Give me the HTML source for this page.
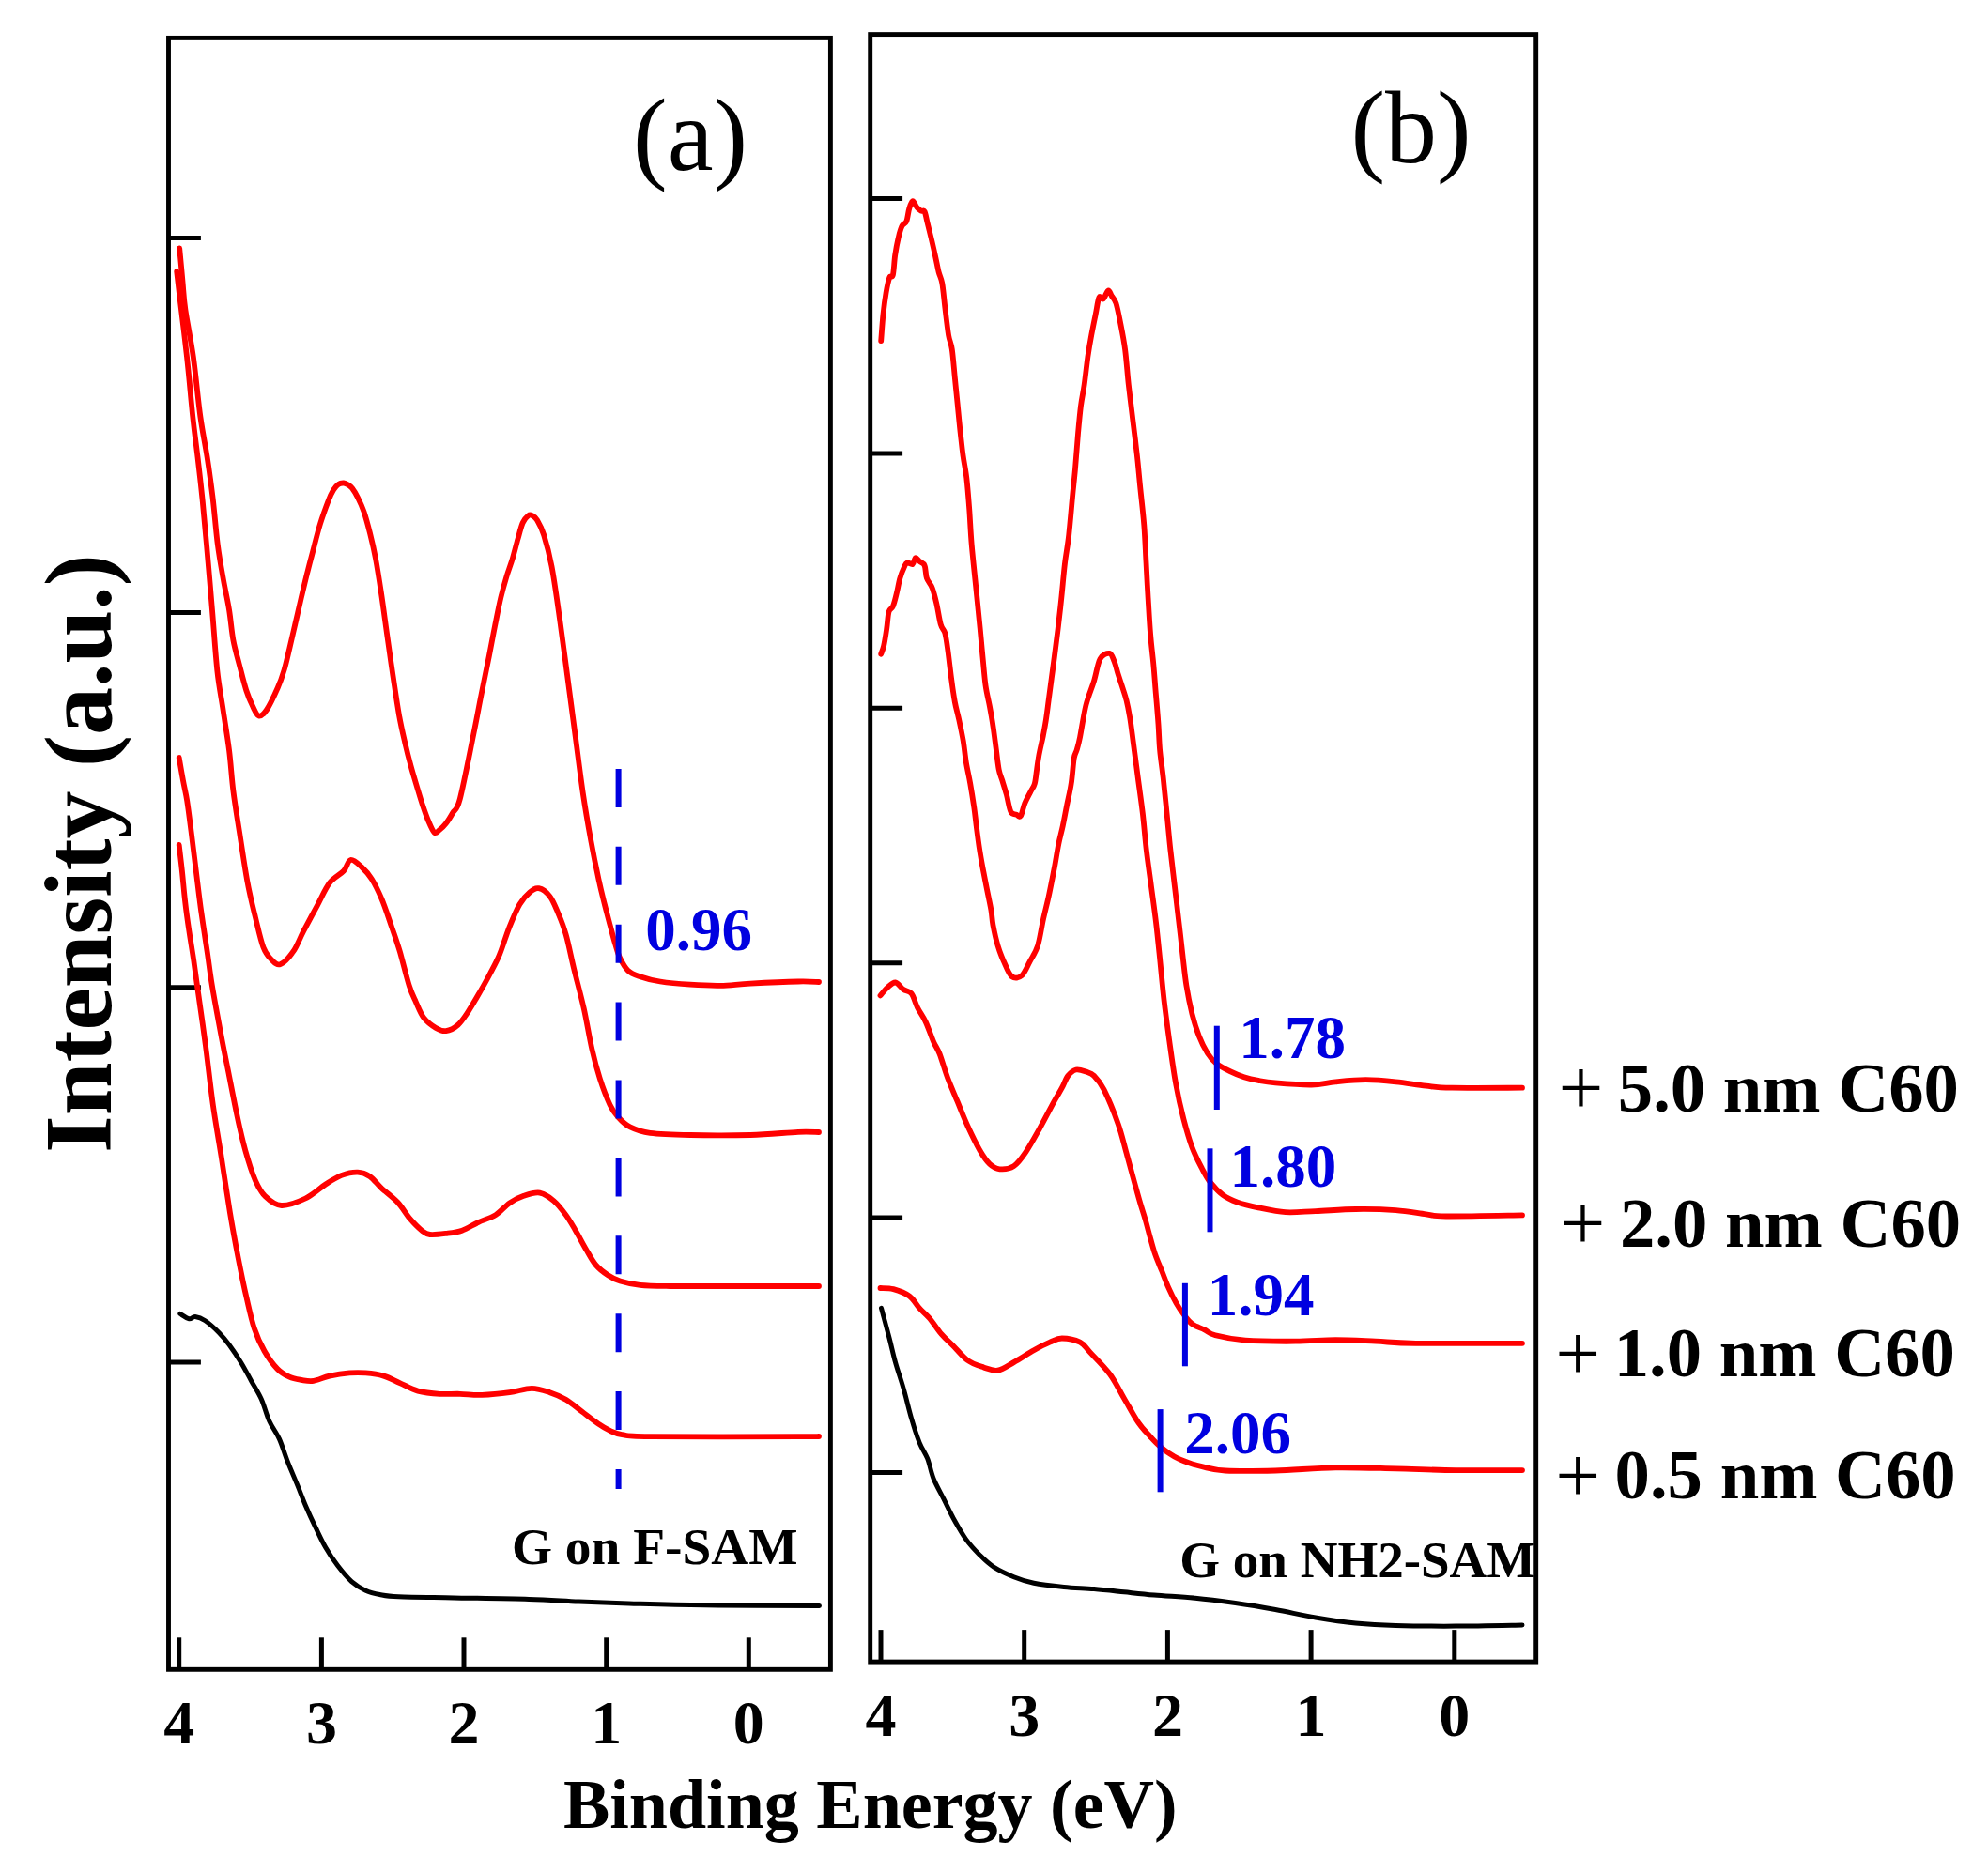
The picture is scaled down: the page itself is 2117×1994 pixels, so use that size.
<!DOCTYPE html>
<html><head><meta charset="utf-8"><title>UPS spectra</title>
<style>
html,body{margin:0;padding:0;background:#fff;}
body{width:2117px;height:1994px;overflow:hidden;}
svg{display:block;}
text{font-family:'Liberation Serif','Times New Roman',serif;fill:#000;}
text.ink{fill:#0000e0;}
</style></head>
<body>
<svg width="2117" height="1994" viewBox="0 0 2117 1994">
<rect width="2117" height="1994" fill="#fff"/>
<rect x="179.5" y="40.4" width="704.9" height="1737.9" fill="none" stroke="#000" stroke-width="4.9"/>
<rect x="926.7" y="36.6" width="709.0" height="1733.5" fill="none" stroke="#000" stroke-width="4.9"/>
<line x1="179.5" y1="253.4" x2="213.9" y2="253.4" stroke="#000" stroke-width="5.0"/>
<line x1="179.5" y1="652.6" x2="213.9" y2="652.6" stroke="#000" stroke-width="5.0"/>
<line x1="179.5" y1="1051.8" x2="213.9" y2="1051.8" stroke="#000" stroke-width="5.0"/>
<line x1="179.5" y1="1451.0" x2="213.9" y2="1451.0" stroke="#000" stroke-width="5.0"/>
<line x1="926.7" y1="211.5" x2="961.1" y2="211.5" stroke="#000" stroke-width="5.0"/>
<line x1="926.7" y1="482.9" x2="961.1" y2="482.9" stroke="#000" stroke-width="5.0"/>
<line x1="926.7" y1="754.3" x2="961.1" y2="754.3" stroke="#000" stroke-width="5.0"/>
<line x1="926.7" y1="1025.7" x2="961.1" y2="1025.7" stroke="#000" stroke-width="5.0"/>
<line x1="926.7" y1="1297.1" x2="961.1" y2="1297.1" stroke="#000" stroke-width="5.0"/>
<line x1="926.7" y1="1568.5" x2="961.1" y2="1568.5" stroke="#000" stroke-width="5.0"/>
<line x1="190.7" y1="1778.3" x2="190.7" y2="1744.3" stroke="#000" stroke-width="5.0"/>
<line x1="342.4" y1="1778.3" x2="342.4" y2="1744.3" stroke="#000" stroke-width="5.0"/>
<line x1="494.0" y1="1778.3" x2="494.0" y2="1744.3" stroke="#000" stroke-width="5.0"/>
<line x1="645.7" y1="1778.3" x2="645.7" y2="1744.3" stroke="#000" stroke-width="5.0"/>
<line x1="797.3" y1="1778.3" x2="797.3" y2="1744.3" stroke="#000" stroke-width="5.0"/>
<line x1="938.0" y1="1770.1" x2="938.0" y2="1736.1" stroke="#000" stroke-width="5.0"/>
<line x1="1090.7" y1="1770.1" x2="1090.7" y2="1736.1" stroke="#000" stroke-width="5.0"/>
<line x1="1243.4" y1="1770.1" x2="1243.4" y2="1736.1" stroke="#000" stroke-width="5.0"/>
<line x1="1396.1" y1="1770.1" x2="1396.1" y2="1736.1" stroke="#000" stroke-width="5.0"/>
<line x1="1548.8" y1="1770.1" x2="1548.8" y2="1736.1" stroke="#000" stroke-width="5.0"/>
<text x="190.7" y="1857" font-size="66" font-weight="bold" text-anchor="middle">4</text>
<text x="342.4" y="1857" font-size="66" font-weight="bold" text-anchor="middle">3</text>
<text x="494.0" y="1857" font-size="66" font-weight="bold" text-anchor="middle">2</text>
<text x="645.7" y="1857" font-size="66" font-weight="bold" text-anchor="middle">1</text>
<text x="797.3" y="1857" font-size="66" font-weight="bold" text-anchor="middle">0</text>
<text x="938.0" y="1849" font-size="66" font-weight="bold" text-anchor="middle">4</text>
<text x="1090.7" y="1849" font-size="66" font-weight="bold" text-anchor="middle">3</text>
<text x="1243.4" y="1849" font-size="66" font-weight="bold" text-anchor="middle">2</text>
<text x="1396.1" y="1849" font-size="66" font-weight="bold" text-anchor="middle">1</text>
<text x="1548.8" y="1849" font-size="66" font-weight="bold" text-anchor="middle">0</text>
<path d="M191.8,1399.4 C193.4,1400.3 198.7,1404.2 201.4,1404.7 C204.1,1405.2 205.0,1402.2 207.8,1402.6 C210.7,1402.9 214.2,1403.9 218.5,1406.8 C222.8,1409.7 229.1,1415.4 233.4,1419.7 C237.7,1424.0 240.2,1427.2 244.1,1432.5 C248.0,1437.8 253.0,1445.3 256.9,1451.7 C260.8,1458.1 264.0,1464.5 267.6,1470.9 C271.2,1477.3 275.1,1483.1 278.3,1490.2 C281.5,1497.3 283.6,1506.6 286.8,1513.7 C290.0,1520.8 294.3,1525.8 297.5,1532.9 C300.7,1540.0 302.9,1548.2 306.1,1556.4 C309.3,1564.6 313.6,1574.3 316.8,1582.1 C320.0,1589.9 322.1,1595.9 325.3,1603.4 C328.5,1610.9 332.4,1619.4 336.0,1626.9 C339.6,1634.4 342.8,1641.5 346.7,1648.3 C350.6,1655.1 354.9,1661.5 359.5,1667.5 C364.1,1673.5 369.4,1680.1 374.4,1684.6 C379.4,1689.0 384.4,1691.9 389.4,1694.2 C394.4,1696.5 398.5,1697.4 404.4,1698.5 C410.3,1699.6 411.5,1700.2 424.6,1700.8 C437.8,1701.4 460.2,1701.5 483.3,1701.9 C506.4,1702.3 541.1,1702.7 563.3,1703.4 C585.5,1704.1 598.8,1705.3 616.6,1706.1 C634.4,1706.9 647.7,1707.4 669.9,1708.0 C692.1,1708.6 716.1,1709.4 749.9,1709.8 C783.7,1710.2 852.1,1710.5 872.5,1710.6" fill="none" stroke="#000" stroke-width="5.0" stroke-linejoin="round" stroke-linecap="round"/>
<path d="M938.5,1393.4 C939.9,1398.8 944.6,1415.9 947.1,1425.5 C949.6,1435.1 951.0,1442.2 953.5,1451.1 C956.0,1460.0 959.2,1468.9 962.1,1478.9 C965.0,1488.9 967.8,1501.3 970.6,1510.9 C973.4,1520.5 976.2,1529.5 979.1,1536.6 C982.0,1543.7 985.2,1547.3 987.7,1553.7 C990.2,1560.1 991.2,1567.9 994.1,1575.0 C997.0,1582.1 1001.2,1589.3 1004.8,1596.4 C1008.4,1603.5 1011.6,1610.7 1015.5,1617.8 C1019.4,1624.9 1023.7,1632.7 1028.3,1639.1 C1032.9,1645.5 1038.2,1651.2 1043.2,1656.2 C1048.2,1661.2 1052.1,1665.2 1058.2,1669.1 C1064.3,1673.0 1072.5,1676.8 1079.6,1679.7 C1086.7,1682.6 1092.0,1684.4 1100.9,1686.2 C1109.8,1688.0 1122.3,1689.3 1133.0,1690.4 C1143.7,1691.5 1154.3,1691.7 1165.0,1692.6 C1175.7,1693.5 1186.4,1694.7 1197.1,1695.8 C1207.8,1696.9 1216.5,1697.9 1229.1,1699.0 C1241.7,1700.1 1258.3,1700.8 1272.7,1702.2 C1287.1,1703.6 1301.2,1705.5 1315.5,1707.5 C1329.8,1709.5 1344.0,1711.9 1358.2,1714.5 C1372.4,1717.1 1386.7,1720.6 1400.9,1723.0 C1415.2,1725.4 1429.5,1727.6 1443.7,1729.0 C1458.0,1730.4 1468.6,1731.0 1486.4,1731.5 C1504.2,1732.0 1528.1,1732.2 1550.5,1732.1 C1572.9,1732.0 1609.2,1731.2 1621.0,1731.0" fill="none" stroke="#000" stroke-width="5.0" stroke-linejoin="round" stroke-linecap="round"/>
<path d="M191.2,264.4 C191.8,270.3 193.5,289.1 194.5,300.0 C195.5,310.9 195.5,316.7 197.4,330.0 C199.3,343.3 203.1,361.0 205.8,380.0 C208.5,399.0 210.9,426.2 213.4,444.0 C215.9,461.8 218.4,472.5 220.6,486.8 C222.8,501.1 224.6,514.1 226.5,529.6 C228.4,545.1 229.9,565.3 231.8,580.0 C233.7,594.7 235.9,606.3 238.0,618.0 C240.1,629.7 242.4,639.3 244.1,650.0 C245.8,660.7 246.6,672.4 248.4,682.0 C250.2,691.6 252.5,698.8 254.8,707.7 C257.1,716.6 259.9,728.1 262.3,735.5 C264.7,742.9 266.8,747.5 269.0,752.0 C271.2,756.5 273.0,761.8 275.5,762.5 C278.0,763.2 280.6,761.0 284.0,756.0 C287.4,751.0 292.7,739.5 295.8,732.5 C298.9,725.5 300.4,721.0 302.5,714.0 C304.6,707.0 306.3,699.1 308.3,690.8 C310.3,682.5 312.4,673.0 314.5,664.0 C316.6,655.0 318.7,645.5 320.8,636.7 C322.9,627.9 324.9,619.3 327.0,611.0 C329.1,602.7 331.0,595.5 333.3,586.7 C335.6,577.9 338.2,567.0 341.0,558.0 C343.8,549.0 347.7,538.5 350.0,532.5 C352.3,526.5 353.3,524.8 355.0,522.0 C356.7,519.2 358.6,517.0 360.4,515.8 C362.2,514.5 364.2,514.4 366.0,514.5 C367.8,514.6 369.5,515.6 371.0,516.5 C372.5,517.4 373.3,517.8 375.0,520.0 C376.7,522.2 378.9,525.8 381.0,530.0 C383.1,534.2 385.3,538.7 387.5,545.0 C389.7,551.3 391.9,559.7 394.0,568.0 C396.1,576.3 398.0,584.3 400.0,595.0 C402.0,605.7 403.9,618.1 406.0,632.0 C408.1,645.9 410.4,663.6 412.5,678.3 C414.6,693.0 416.4,706.1 418.5,720.0 C420.6,733.9 422.9,750.0 425.0,761.7 C427.1,773.4 428.9,781.0 431.0,790.0 C433.1,799.0 435.3,807.8 437.5,815.8 C439.7,823.8 441.9,831.0 444.0,838.0 C446.1,845.0 448.0,851.5 450.0,857.5 C452.0,863.5 453.9,869.1 456.0,874.0 C458.1,878.9 460.5,885.0 462.5,886.7 C464.5,888.4 465.9,885.6 468.0,884.0 C470.1,882.4 472.7,880.0 475.0,877.0 C477.3,874.0 479.5,870.4 482.0,866.0 C484.5,861.6 486.1,864.8 489.8,850.9 C493.5,837.0 500.4,801.0 504.2,782.5 C508.0,764.0 509.7,753.9 512.5,740.0 C515.3,726.1 518.4,711.4 520.8,699.2 C523.2,687.0 524.9,677.4 527.0,667.0 C529.1,656.6 531.2,645.5 533.3,636.7 C535.4,627.9 537.4,621.0 539.5,614.0 C541.6,607.0 543.8,601.7 545.8,595.0 C547.8,588.3 549.7,580.3 551.5,574.0 C553.3,567.7 554.8,561.1 556.6,557.0 C558.4,552.9 560.8,550.5 562.5,549.2 C564.2,547.9 565.1,548.4 566.7,549.2 C568.3,550.0 569.9,550.5 572.0,554.0 C574.1,557.5 576.6,561.8 579.2,570.0 C581.8,578.2 584.7,588.7 587.5,603.3 C590.3,617.9 593.0,638.0 595.8,657.5 C598.6,677.0 601.4,699.2 604.2,720.0 C607.0,740.8 609.7,761.7 612.5,782.5 C615.3,803.3 618.0,826.2 620.8,845.0 C623.6,863.8 626.4,879.7 629.2,895.0 C632.0,910.3 635.1,925.5 637.5,936.7 C639.9,947.9 641.4,953.7 643.5,962.0 C645.6,970.3 648.1,979.5 650.0,986.7 C651.9,993.9 653.3,999.5 655.0,1005.0 C656.7,1010.5 657.7,1015.2 660.0,1020.0 C662.3,1024.8 665.2,1030.4 668.8,1033.8 C672.4,1037.2 675.9,1038.2 681.6,1040.2 C687.3,1042.2 694.1,1044.1 703.0,1045.5 C711.9,1046.9 724.3,1048.0 735.0,1048.7 C745.7,1049.4 756.4,1050.0 767.1,1049.8 C777.8,1049.6 785.3,1048.3 799.1,1047.6 C812.9,1046.9 837.9,1045.8 850.0,1045.5 C862.1,1045.2 868.3,1045.9 872.0,1046.0" fill="none" stroke="#ff0000" stroke-width="5.8" stroke-linejoin="round" stroke-linecap="round"/>
<path d="M188.2,289.1 C188.7,293.2 189.3,298.7 191.1,313.8 C192.9,328.9 196.6,358.3 199.0,380.0 C201.4,401.7 203.4,426.2 205.3,444.0 C207.2,461.8 208.8,472.5 210.5,486.8 C212.2,501.1 213.7,514.1 215.3,529.6 C216.9,545.1 218.2,559.9 220.0,580.0 C221.8,600.1 224.1,627.6 226.0,650.0 C227.9,672.4 229.4,696.3 231.3,714.1 C233.2,731.9 235.6,742.5 237.7,756.8 C239.8,771.0 242.3,785.4 244.1,799.6 C245.9,813.9 246.6,828.1 248.4,842.3 C250.2,856.5 252.3,869.0 254.8,885.0 C257.3,901.0 260.5,923.2 263.3,938.5 C266.1,953.8 269.0,965.1 271.9,976.9 C274.8,988.6 277.5,1001.5 280.4,1009.0 C283.2,1016.5 286.0,1019.0 289.0,1022.0 C292.0,1025.0 294.7,1028.6 298.6,1027.1 C302.5,1025.6 308.4,1019.1 312.5,1013.2 C316.6,1007.3 318.9,1000.1 323.2,991.9 C327.5,983.7 333.5,972.6 338.1,964.1 C342.7,955.6 346.3,946.7 350.9,940.6 C355.5,934.5 362.1,931.9 365.9,927.8 C369.6,923.7 370.2,916.7 373.4,916.0 C376.6,915.3 381.4,920.1 385.1,923.5 C388.8,926.9 392.2,930.6 395.8,936.3 C399.4,942.0 402.9,949.2 406.5,957.7 C410.1,966.2 414.0,978.4 417.2,987.6 C420.4,996.9 422.6,1002.8 425.7,1013.2 C428.8,1023.6 432.9,1041.0 435.8,1050.0 C438.7,1059.0 440.2,1061.4 442.8,1067.1 C445.4,1072.8 447.8,1079.6 451.4,1084.2 C455.0,1088.8 460.3,1092.6 464.2,1094.9 C468.1,1097.2 471.0,1098.6 474.9,1098.1 C478.8,1097.6 483.8,1095.1 487.7,1091.7 C491.6,1088.3 494.6,1083.5 498.4,1077.8 C502.2,1072.1 506.9,1063.9 510.7,1057.3 C514.5,1050.7 517.9,1044.8 521.4,1038.0 C524.9,1031.2 528.5,1025.2 532.0,1016.7 C535.5,1008.2 539.1,995.7 542.7,986.8 C546.3,977.9 549.8,969.3 553.4,963.2 C557.0,957.1 560.7,953.2 564.1,950.4 C567.5,947.6 570.1,945.5 573.7,946.2 C577.3,946.9 582.1,950.4 585.5,954.7 C588.9,959.0 591.1,965.0 594.0,971.8 C596.9,978.6 599.8,985.3 602.6,995.3 C605.5,1005.3 607.9,1018.4 611.1,1031.6 C614.3,1044.8 618.6,1060.2 621.8,1074.4 C625.0,1088.7 627.4,1104.6 630.3,1117.1 C633.1,1129.5 635.7,1139.1 638.9,1149.1 C642.1,1159.1 646.4,1170.1 649.6,1176.9 C652.8,1183.7 654.6,1185.8 658.1,1189.7 C661.6,1193.6 665.2,1197.6 670.9,1200.4 C676.6,1203.2 681.6,1205.4 692.3,1206.8 C703.0,1208.2 717.2,1208.6 735.0,1209.0 C752.8,1209.4 779.9,1209.5 799.1,1209.0 C818.3,1208.5 837.9,1206.3 850.0,1205.8 C862.1,1205.3 868.3,1206.0 872.0,1206.0" fill="none" stroke="#ff0000" stroke-width="5.8" stroke-linejoin="round" stroke-linecap="round"/>
<path d="M190.7,807.0 C191.4,811.1 193.6,823.9 195.0,831.6 C196.4,839.3 197.8,844.1 199.2,853.0 C200.6,861.9 201.9,872.5 203.5,885.0 C205.1,897.5 207.0,913.5 208.8,927.8 C210.6,942.0 212.2,956.3 214.2,970.5 C216.2,984.7 218.6,1000.0 220.6,1013.2 C222.6,1026.5 223.4,1035.0 225.9,1050.0 C228.4,1065.0 232.6,1087.4 235.6,1103.4 C238.6,1119.4 241.3,1132.0 244.1,1146.2 C246.9,1160.5 249.8,1175.7 252.6,1188.9 C255.4,1202.1 258.0,1213.8 261.2,1225.2 C264.4,1236.6 268.3,1249.1 271.9,1257.3 C275.5,1265.5 278.0,1270.0 282.6,1274.4 C287.2,1278.9 292.6,1283.7 299.7,1284.0 C306.8,1284.3 317.5,1280.2 325.3,1276.5 C333.1,1272.8 340.3,1265.6 346.7,1261.5 C353.1,1257.4 358.1,1254.0 363.8,1251.9 C369.5,1249.8 375.9,1248.5 380.9,1248.7 C385.9,1248.9 389.4,1250.2 393.7,1253.0 C398.0,1255.8 401.5,1261.2 406.5,1265.8 C411.5,1270.4 418.6,1275.4 423.6,1280.8 C428.6,1286.2 432.1,1292.9 436.4,1297.9 C440.7,1302.9 445.6,1307.9 449.2,1310.7 C452.8,1313.5 453.5,1314.5 457.8,1315.0 C462.1,1315.5 469.2,1314.6 474.9,1313.9 C480.6,1313.2 486.3,1312.7 492.0,1310.7 C497.7,1308.7 503.1,1304.9 509.1,1302.1 C515.1,1299.3 522.2,1297.6 527.8,1294.1 C533.4,1290.6 537.7,1284.7 542.7,1281.3 C547.7,1277.9 552.4,1275.6 557.7,1273.8 C563.1,1272.0 569.5,1269.7 574.8,1270.6 C580.1,1271.5 585.1,1275.2 589.7,1279.1 C594.3,1283.0 598.7,1288.8 602.6,1294.1 C606.5,1299.4 609.7,1305.2 613.2,1311.2 C616.8,1317.2 620.3,1324.4 623.9,1330.4 C627.5,1336.5 630.7,1342.9 634.6,1347.5 C638.5,1352.1 643.1,1355.4 647.4,1358.2 C651.7,1361.0 654.6,1362.8 660.3,1364.6 C666.0,1366.4 672.7,1368.0 681.6,1368.9 C690.5,1369.8 697.7,1369.8 713.7,1370.0 C729.7,1370.2 755.1,1370.0 777.8,1370.0 C800.5,1370.0 834.3,1370.0 850.0,1370.0 C865.7,1370.0 868.3,1370.0 872.0,1370.0" fill="none" stroke="#ff0000" stroke-width="5.8" stroke-linejoin="round" stroke-linecap="round"/>
<path d="M190.7,900.0 C191.2,904.6 192.8,917.8 193.9,927.8 C195.0,937.8 195.8,949.1 197.1,959.8 C198.3,970.5 199.8,981.2 201.4,991.9 C203.0,1002.6 205.0,1014.2 206.4,1023.9 C207.8,1033.6 207.9,1035.0 210.0,1050.0 C212.1,1065.0 216.2,1092.7 219.0,1114.1 C221.8,1135.5 224.2,1158.6 227.0,1178.2 C229.8,1197.8 232.6,1212.6 235.6,1231.6 C238.6,1250.6 242.0,1273.9 245.0,1292.0 C248.0,1310.1 250.8,1325.1 253.7,1340.0 C256.6,1354.9 259.4,1368.7 262.3,1381.2 C265.2,1393.7 267.6,1405.4 270.8,1415.0 C274.0,1424.6 277.4,1431.8 281.5,1439.0 C285.6,1446.2 290.9,1453.5 295.4,1458.1 C299.8,1462.7 303.9,1464.7 308.2,1466.7 C312.5,1468.7 316.7,1469.2 321.0,1469.9 C325.3,1470.6 328.8,1471.6 333.8,1470.9 C338.8,1470.2 344.5,1467.0 350.9,1465.6 C357.3,1464.2 365.9,1462.9 372.3,1462.4 C378.7,1461.9 383.3,1461.9 389.4,1462.4 C395.4,1462.9 402.6,1463.8 408.6,1465.6 C414.7,1467.4 419.6,1470.4 425.7,1473.1 C431.8,1475.8 437.9,1479.6 445.0,1481.6 C452.1,1483.5 461.0,1484.3 468.5,1484.8 C476.0,1485.3 482.3,1484.6 489.8,1484.8 C497.3,1485.0 504.5,1486.2 513.3,1485.9 C522.1,1485.6 533.9,1484.4 542.7,1483.2 C551.5,1482.0 559.1,1478.9 566.2,1478.9 C573.3,1478.9 579.4,1481.2 585.5,1483.2 C591.6,1485.2 596.9,1487.3 602.6,1490.7 C608.3,1494.1 614.0,1499.2 619.7,1503.5 C625.4,1507.8 631.8,1512.9 636.8,1516.3 C641.8,1519.7 645.3,1521.8 649.6,1523.8 C653.9,1525.8 655.3,1527.0 662.4,1528.1 C669.5,1529.2 661.0,1529.8 692.3,1530.2 C723.6,1530.6 820.0,1530.2 850.0,1530.2 C880.0,1530.2 868.3,1530.0 872.0,1530.0" fill="none" stroke="#ff0000" stroke-width="5.8" stroke-linejoin="round" stroke-linecap="round"/>
<path d="M938.2,363.1 C938.6,358.4 939.6,343.2 940.5,334.7 C941.4,326.2 942.4,318.7 943.5,312.2 C944.6,305.7 946.0,299.0 947.2,295.8 C948.4,292.6 949.9,296.8 950.9,292.8 C951.9,288.8 952.2,278.5 953.2,271.8 C954.2,265.1 955.6,257.6 956.9,252.4 C958.1,247.2 959.3,243.2 960.7,240.4 C962.1,237.7 964.0,238.9 965.2,235.9 C966.5,232.9 967.1,226.0 968.2,222.4 C969.3,218.8 970.5,214.4 971.9,214.2 C973.3,213.9 974.9,219.2 976.4,220.9 C977.9,222.7 979.5,223.9 980.9,224.7 C982.3,225.4 983.5,223.3 984.6,225.4 C985.7,227.5 986.5,232.9 987.6,237.4 C988.7,241.9 989.9,246.7 991.3,252.4 C992.7,258.1 994.4,265.6 995.8,271.8 C997.2,278.0 998.4,284.8 999.6,289.8 C1000.9,294.8 1002.2,295.6 1003.3,301.8 C1004.4,308.0 1005.2,318.0 1006.3,327.2 C1007.4,336.4 1008.9,349.6 1010.1,357.1 C1011.4,364.6 1012.7,364.6 1013.8,372.1 C1014.9,379.6 1015.8,392.0 1016.8,402.0 C1017.8,412.0 1018.8,421.9 1019.8,431.9 C1020.8,441.9 1021.8,453.0 1022.8,461.9 C1023.8,470.8 1024.4,477.0 1025.5,485.0 C1026.6,493.0 1028.3,500.3 1029.4,509.8 C1030.5,519.3 1031.3,530.2 1032.2,541.9 C1033.1,553.6 1033.5,566.2 1034.7,580.0 C1035.9,593.8 1037.7,609.9 1039.2,624.9 C1040.7,639.9 1042.5,657.3 1043.7,669.8 C1044.9,682.3 1045.5,690.0 1046.5,700.0 C1047.5,710.0 1048.3,721.2 1049.5,729.9 C1050.7,738.6 1052.5,744.9 1053.9,752.4 C1055.3,759.9 1056.6,767.3 1057.7,774.8 C1058.8,782.3 1059.7,789.8 1060.7,797.3 C1061.7,804.8 1062.6,814.0 1063.7,819.7 C1064.8,825.4 1066.0,827.2 1067.4,831.7 C1068.8,836.2 1070.4,841.1 1071.9,846.6 C1073.4,852.1 1074.7,861.1 1076.4,864.6 C1078.2,868.1 1080.7,866.9 1082.4,867.6 C1084.2,868.4 1085.4,871.1 1086.9,869.1 C1088.4,867.1 1089.6,859.9 1091.3,855.6 C1093.0,851.4 1095.5,847.1 1097.3,843.6 C1099.0,840.1 1100.7,838.7 1101.8,834.7 C1102.9,830.7 1103.3,824.7 1104.1,819.7 C1104.8,814.7 1105.2,810.7 1106.3,804.7 C1107.4,798.7 1109.5,790.0 1110.8,783.8 C1112.0,777.6 1112.8,773.8 1113.8,767.3 C1114.8,760.8 1115.8,752.4 1116.8,744.9 C1117.8,737.4 1118.8,729.9 1119.8,722.4 C1120.8,714.9 1121.7,708.7 1122.8,700.0 C1123.9,691.3 1125.3,680.8 1126.6,670.0 C1127.9,659.2 1129.3,646.7 1130.5,635.0 C1131.7,623.3 1132.7,610.8 1134.0,600.0 C1135.3,589.2 1136.9,581.9 1138.2,570.1 C1139.5,558.3 1140.9,541.2 1142.0,529.4 C1143.1,517.6 1144.0,510.7 1145.0,499.5 C1146.0,488.3 1147.0,473.3 1148.0,462.1 C1149.0,450.9 1149.9,440.9 1151.0,432.2 C1152.1,423.5 1153.5,418.4 1154.7,409.7 C1155.9,401.0 1157.2,388.5 1158.4,379.8 C1159.7,371.1 1160.8,364.8 1162.2,357.3 C1163.6,349.8 1165.3,341.6 1166.7,334.9 C1168.1,328.2 1169.0,319.6 1170.4,316.9 C1171.8,314.1 1173.3,319.6 1174.9,318.4 C1176.5,317.2 1178.6,310.0 1180.1,309.5 C1181.6,309.0 1182.5,313.2 1183.9,315.4 C1185.3,317.6 1186.9,318.4 1188.4,322.9 C1189.9,327.4 1191.2,334.2 1192.8,342.4 C1194.4,350.6 1196.6,361.1 1198.1,372.3 C1199.6,383.5 1200.4,397.2 1201.8,409.7 C1203.2,422.2 1204.8,434.6 1206.3,447.1 C1207.8,459.6 1209.4,472.0 1210.8,484.5 C1212.2,497.0 1213.2,509.4 1214.5,521.9 C1215.8,534.4 1217.3,546.5 1218.3,559.3 C1219.3,572.1 1219.8,585.6 1220.5,598.5 C1221.2,611.4 1221.8,624.1 1222.6,636.9 C1223.4,649.7 1224.1,663.6 1225.1,675.4 C1226.0,687.1 1227.3,696.7 1228.3,707.4 C1229.3,718.1 1230.0,728.8 1230.9,739.5 C1231.8,750.2 1232.8,761.4 1233.5,771.5 C1234.2,781.6 1234.3,790.5 1235.2,800.0 C1236.1,809.5 1237.5,817.4 1238.7,828.5 C1239.9,839.6 1241.3,854.1 1242.6,866.9 C1243.9,879.7 1245.0,892.6 1246.4,905.4 C1247.8,918.2 1249.4,931.0 1250.9,943.8 C1252.4,956.6 1253.9,969.6 1255.4,982.3 C1256.9,995.0 1258.4,1008.7 1259.7,1020.0 C1261.0,1031.3 1261.8,1039.9 1263.4,1049.9 C1265.0,1059.9 1267.2,1070.9 1269.4,1079.9 C1271.7,1088.9 1274.2,1096.8 1276.9,1103.8 C1279.6,1110.8 1282.8,1117.0 1285.8,1121.7 C1288.8,1126.4 1290.8,1129.0 1294.8,1132.2 C1298.8,1135.5 1304.8,1138.7 1309.8,1141.2 C1314.8,1143.7 1319.7,1145.6 1324.7,1147.2 C1329.7,1148.8 1334.4,1149.9 1340.0,1150.9 C1345.6,1151.9 1348.8,1152.6 1358.2,1153.4 C1367.7,1154.2 1386.0,1155.7 1396.7,1155.5 C1407.4,1155.3 1412.7,1153.2 1422.3,1152.3 C1431.9,1151.4 1443.7,1150.2 1454.4,1150.2 C1465.1,1150.2 1475.7,1151.2 1486.4,1152.3 C1497.1,1153.4 1508.5,1155.5 1518.5,1156.6 C1528.5,1157.7 1529.1,1158.3 1546.2,1158.7 C1563.3,1159.1 1608.5,1158.7 1621.0,1158.7" fill="none" stroke="#ff0000" stroke-width="5.8" stroke-linejoin="round" stroke-linecap="round"/>
<path d="M938.2,696.7 C938.7,695.2 940.2,692.2 941.2,687.7 C942.2,683.2 943.3,675.8 944.2,669.8 C945.1,663.8 945.4,655.8 946.5,651.8 C947.6,647.8 949.5,649.0 950.9,645.8 C952.3,642.6 953.5,637.4 954.7,632.4 C956.0,627.4 957.0,620.6 958.4,615.9 C959.8,611.1 961.6,606.6 962.9,603.9 C964.1,601.2 964.4,600.0 965.9,599.5 C967.4,599.0 970.4,601.8 971.9,600.9 C973.4,600.0 973.6,594.7 974.9,594.2 C976.1,593.7 977.8,596.6 979.4,598.0 C981.0,599.4 983.4,599.4 984.6,602.4 C985.9,605.4 985.5,611.9 986.9,615.9 C988.3,619.9 991.1,621.9 992.8,626.4 C994.5,630.9 995.8,636.3 997.3,642.8 C998.8,649.3 1000.3,660.0 1001.8,665.3 C1003.3,670.5 1005.0,669.8 1006.3,674.3 C1007.5,678.8 1008.2,684.2 1009.3,692.2 C1010.4,700.2 1011.8,713.0 1013.0,722.2 C1014.2,731.4 1015.4,740.1 1016.8,747.6 C1018.2,755.1 1019.8,760.0 1021.3,767.0 C1022.8,774.0 1024.5,782.0 1025.8,789.5 C1027.0,797.0 1027.6,804.4 1028.8,811.9 C1030.0,819.4 1031.8,826.4 1033.2,834.4 C1034.6,842.4 1036.2,852.6 1037.3,860.1 C1038.4,867.6 1038.8,872.6 1039.7,879.6 C1040.6,886.6 1041.6,894.5 1042.7,902.0 C1043.8,909.5 1045.1,916.9 1046.5,924.4 C1047.9,931.9 1049.4,939.4 1050.9,946.9 C1052.4,954.4 1054.3,962.8 1055.4,969.3 C1056.5,975.8 1056.3,979.3 1057.5,985.6 C1058.7,991.9 1060.6,1000.6 1062.5,1007.0 C1064.4,1013.4 1066.4,1018.6 1068.9,1024.1 C1071.4,1029.6 1074.2,1037.6 1077.4,1040.1 C1080.6,1042.6 1084.9,1041.8 1088.1,1039.1 C1091.3,1036.4 1093.8,1029.4 1096.7,1024.1 C1099.6,1018.7 1102.9,1014.4 1105.2,1007.0 C1107.5,999.6 1108.9,988.8 1110.8,980.0 C1112.7,971.2 1114.8,963.7 1116.8,954.4 C1118.8,945.1 1121.0,933.6 1122.8,924.4 C1124.5,915.2 1125.8,906.5 1127.3,899.0 C1128.8,891.5 1130.3,886.6 1131.8,879.6 C1133.3,872.6 1134.7,864.6 1136.2,857.1 C1137.7,849.6 1139.5,842.9 1140.7,834.7 C1142.0,826.5 1142.7,813.7 1143.7,807.7 C1144.7,801.7 1145.6,802.6 1146.7,798.8 C1147.8,795.0 1148.5,793.0 1150.1,785.0 C1151.7,777.0 1154.0,760.9 1156.5,750.9 C1159.0,740.9 1162.5,733.5 1165.0,725.3 C1167.5,717.1 1168.8,706.7 1171.5,701.8 C1174.2,696.9 1179.0,695.4 1181.5,695.9 C1184.0,696.4 1185.2,701.3 1186.7,704.9 C1188.2,708.5 1189.0,713.0 1190.5,717.7 C1192.0,722.4 1194.1,728.4 1195.6,733.1 C1197.1,737.8 1198.2,740.6 1199.5,745.9 C1200.8,751.2 1202.1,757.8 1203.3,765.1 C1204.5,772.5 1205.3,779.4 1206.7,790.0 C1208.1,800.6 1210.1,815.7 1211.8,828.5 C1213.5,841.3 1215.4,854.1 1216.9,866.9 C1218.4,879.7 1219.3,892.6 1220.8,905.4 C1222.3,918.2 1224.2,931.0 1225.9,943.8 C1227.6,956.6 1229.5,969.6 1231.0,982.3 C1232.5,995.0 1233.6,1006.2 1235.0,1020.0 C1236.4,1033.8 1237.8,1049.9 1239.5,1064.9 C1241.2,1079.9 1243.3,1094.8 1245.4,1109.8 C1247.5,1124.8 1249.7,1141.0 1252.2,1154.7 C1254.7,1168.4 1257.5,1180.9 1260.4,1192.1 C1263.3,1203.3 1266.2,1213.3 1269.4,1222.0 C1272.7,1230.7 1276.7,1238.3 1279.9,1244.5 C1283.1,1250.7 1285.1,1254.7 1288.8,1259.4 C1292.5,1264.1 1297.5,1269.4 1302.3,1272.9 C1307.0,1276.4 1311.0,1278.2 1317.3,1280.4 C1323.6,1282.6 1331.4,1284.5 1340.0,1286.3 C1348.6,1288.1 1358.8,1290.6 1368.9,1291.2 C1379.1,1291.8 1388.4,1290.6 1400.9,1290.1 C1413.4,1289.6 1429.5,1288.2 1443.7,1288.0 C1458.0,1287.8 1473.9,1288.2 1486.4,1289.1 C1498.9,1290.0 1509.6,1292.2 1518.5,1293.3 C1527.4,1294.4 1522.7,1295.3 1539.8,1295.5 C1556.9,1295.7 1607.5,1294.6 1621.0,1294.4" fill="none" stroke="#ff0000" stroke-width="5.8" stroke-linejoin="round" stroke-linecap="round"/>
<path d="M937.5,1060.4 C938.8,1059.0 942.3,1054.2 945.0,1051.9 C947.7,1049.6 950.6,1046.2 953.5,1046.5 C956.4,1046.8 959.2,1052.0 962.1,1054.0 C965.0,1056.0 968.1,1055.1 970.6,1058.3 C973.1,1061.5 974.5,1068.2 977.0,1073.2 C979.5,1078.2 982.8,1082.1 985.6,1088.2 C988.5,1094.3 991.6,1103.9 994.1,1109.6 C996.6,1115.3 998.0,1116.0 1000.5,1122.4 C1003.0,1128.8 1005.9,1139.5 1009.1,1148.0 C1012.3,1156.5 1016.2,1165.2 1019.7,1173.7 C1023.2,1182.2 1026.5,1190.8 1030.4,1199.3 C1034.3,1207.8 1039.3,1218.2 1043.2,1225.0 C1047.1,1231.8 1050.3,1236.5 1053.9,1239.9 C1057.5,1243.3 1060.3,1244.9 1064.6,1245.3 C1068.9,1245.7 1075.0,1245.1 1079.6,1242.1 C1084.2,1239.1 1087.8,1233.9 1092.4,1227.1 C1097.0,1220.3 1102.4,1210.4 1107.4,1201.5 C1112.4,1192.6 1118.4,1180.8 1122.3,1173.7 C1126.2,1166.6 1128.4,1163.3 1130.9,1158.7 C1133.4,1154.1 1134.8,1149.1 1137.3,1145.9 C1139.8,1142.7 1142.6,1140.2 1145.8,1139.5 C1149.0,1138.8 1153.3,1140.5 1156.5,1141.6 C1159.7,1142.7 1161.8,1142.7 1165.0,1145.9 C1168.2,1149.1 1171.4,1152.4 1175.7,1160.9 C1180.0,1169.5 1186.8,1186.2 1190.7,1197.2 C1194.6,1208.2 1196.3,1216.6 1199.2,1227.1 C1202.1,1237.6 1205.7,1251.0 1208.2,1260.0 C1210.7,1269.0 1212.2,1274.6 1214.2,1281.4 C1216.2,1288.2 1218.4,1294.6 1220.2,1301.0 C1222.0,1307.4 1223.6,1313.8 1225.3,1319.8 C1227.0,1325.8 1228.4,1331.2 1230.4,1336.9 C1232.4,1342.6 1235.0,1348.3 1237.3,1354.0 C1239.6,1359.7 1241.5,1365.4 1244.1,1371.1 C1246.6,1376.8 1249.8,1383.2 1252.6,1388.2 C1255.4,1393.2 1258.3,1397.3 1261.2,1401.0 C1264.1,1404.7 1266.1,1407.8 1269.7,1410.4 C1273.3,1413.0 1278.5,1414.4 1282.6,1416.4 C1286.7,1418.4 1286.8,1420.4 1294.1,1422.3 C1301.4,1424.2 1312.0,1426.5 1326.2,1427.6 C1340.5,1428.7 1363.6,1428.8 1379.6,1428.7 C1395.6,1428.6 1408.1,1427.2 1422.3,1427.2 C1436.5,1427.2 1450.8,1428.1 1465.0,1428.7 C1479.2,1429.3 1481.8,1430.5 1507.8,1430.8 C1533.8,1431.1 1602.1,1430.8 1621.0,1430.8" fill="none" stroke="#ff0000" stroke-width="5.8" stroke-linejoin="round" stroke-linecap="round"/>
<path d="M937.5,1372.0 C939.8,1372.2 946.2,1371.7 951.4,1373.1 C956.6,1374.5 963.9,1377.2 968.5,1380.6 C973.1,1384.0 975.6,1389.5 979.1,1393.4 C982.6,1397.3 985.9,1399.5 989.8,1404.1 C993.7,1408.7 998.3,1416.2 1002.6,1421.2 C1006.9,1426.2 1010.9,1429.4 1015.5,1434.0 C1020.1,1438.6 1025.1,1445.2 1030.4,1449.0 C1035.7,1452.8 1042.2,1454.7 1047.5,1456.5 C1052.8,1458.3 1057.2,1460.6 1062.5,1459.7 C1067.8,1458.8 1073.2,1454.7 1079.6,1451.1 C1086.0,1447.5 1094.5,1441.9 1100.9,1438.3 C1107.3,1434.7 1113.0,1431.8 1118.0,1429.7 C1123.0,1427.6 1125.6,1425.5 1130.9,1425.5 C1136.2,1425.5 1145.1,1427.2 1150.1,1429.7 C1155.1,1432.2 1155.5,1434.7 1160.8,1440.4 C1166.1,1446.1 1176.0,1455.7 1182.1,1463.9 C1188.1,1472.1 1192.1,1481.0 1197.1,1489.6 C1202.1,1498.1 1207.5,1508.4 1212.1,1515.2 C1216.7,1522.0 1221.0,1525.9 1224.9,1530.2 C1228.8,1534.5 1231.3,1537.4 1235.6,1540.9 C1239.9,1544.5 1245.5,1548.7 1250.5,1551.5 C1255.5,1554.3 1260.6,1556.2 1265.5,1558.0 C1270.4,1559.8 1273.5,1560.8 1280.0,1562.2 C1286.5,1563.6 1291.8,1565.8 1304.8,1566.5 C1317.8,1567.2 1338.6,1567.0 1358.2,1566.5 C1377.8,1566.0 1400.9,1563.6 1422.3,1563.3 C1443.7,1563.0 1465.0,1563.9 1486.4,1564.4 C1507.8,1564.9 1528.1,1565.8 1550.5,1566.1 C1572.9,1566.4 1609.2,1566.1 1621.0,1566.1" fill="none" stroke="#ff0000" stroke-width="5.8" stroke-linejoin="round" stroke-linecap="round"/>
<line x1="658.6" y1="818.9" x2="658.6" y2="1586" stroke="#0000e0" stroke-width="6.0" stroke-dasharray="41 41.9"/>
<line x1="1295.8" y1="1092.7" x2="1295.8" y2="1182.0" stroke="#0000e0" stroke-width="6.0"/>
<line x1="1288.5" y1="1223.3" x2="1288.5" y2="1312.3" stroke="#0000e0" stroke-width="6.0"/>
<line x1="1261.9" y1="1366.8" x2="1261.9" y2="1455.3" stroke="#0000e0" stroke-width="6.0"/>
<line x1="1235.6" y1="1501.1" x2="1235.6" y2="1589.3" stroke="#0000e0" stroke-width="6.0"/>
<text x="687.2" y="1012.3" font-size="65" font-weight="bold" fill="#0000e0" class="ink">0.96</text>
<text x="1319.2" y="1126.5" font-size="65" font-weight="bold" fill="#0000e0" class="ink">1.78</text>
<text x="1309.5" y="1264.0" font-size="65" font-weight="bold" fill="#0000e0" class="ink">1.80</text>
<text x="1285.8" y="1401.1" font-size="65" font-weight="bold" fill="#0000e0" class="ink">1.94</text>
<text x="1261.2" y="1547.6" font-size="65" font-weight="bold" fill="#0000e0" class="ink">2.06</text>
<text x="674" y="181" font-size="110">(a)</text>
<text x="1438.4" y="172.5" font-size="110">(b)</text>
<text x="544.9" y="1665.5" font-size="55.4" font-weight="bold">G on F-SAM</text>
<text x="1256.3" y="1680.2" font-size="55" font-weight="bold">G on NH2-SAM</text>
<text x="1659.4" y="1187.2" font-size="85">+</text>
<text x="1722.8" y="1183.8" font-size="74.7" font-weight="bold">5.0 nm C60</text>
<text x="1661.6" y="1331.2" font-size="85">+</text>
<text x="1725.0" y="1327.5" font-size="74.7" font-weight="bold">2.0 nm C60</text>
<text x="1656.2" y="1469.5" font-size="85">+</text>
<text x="1718.7" y="1465.6" font-size="74.7" font-weight="bold">1.0 nm C60</text>
<text x="1656.2" y="1599.5" font-size="85">+</text>
<text x="1719.6" y="1595.6" font-size="74.7" font-weight="bold">0.5 nm C60</text>
<text x="599.9" y="1947.3" font-size="74" font-weight="bold">Binding Energy (eV)</text>
<text transform="translate(118,1227.9) rotate(-90)" x="0" y="0" font-size="102" font-weight="bold">Intensity (a.u.)</text>
</svg>
</body></html>
